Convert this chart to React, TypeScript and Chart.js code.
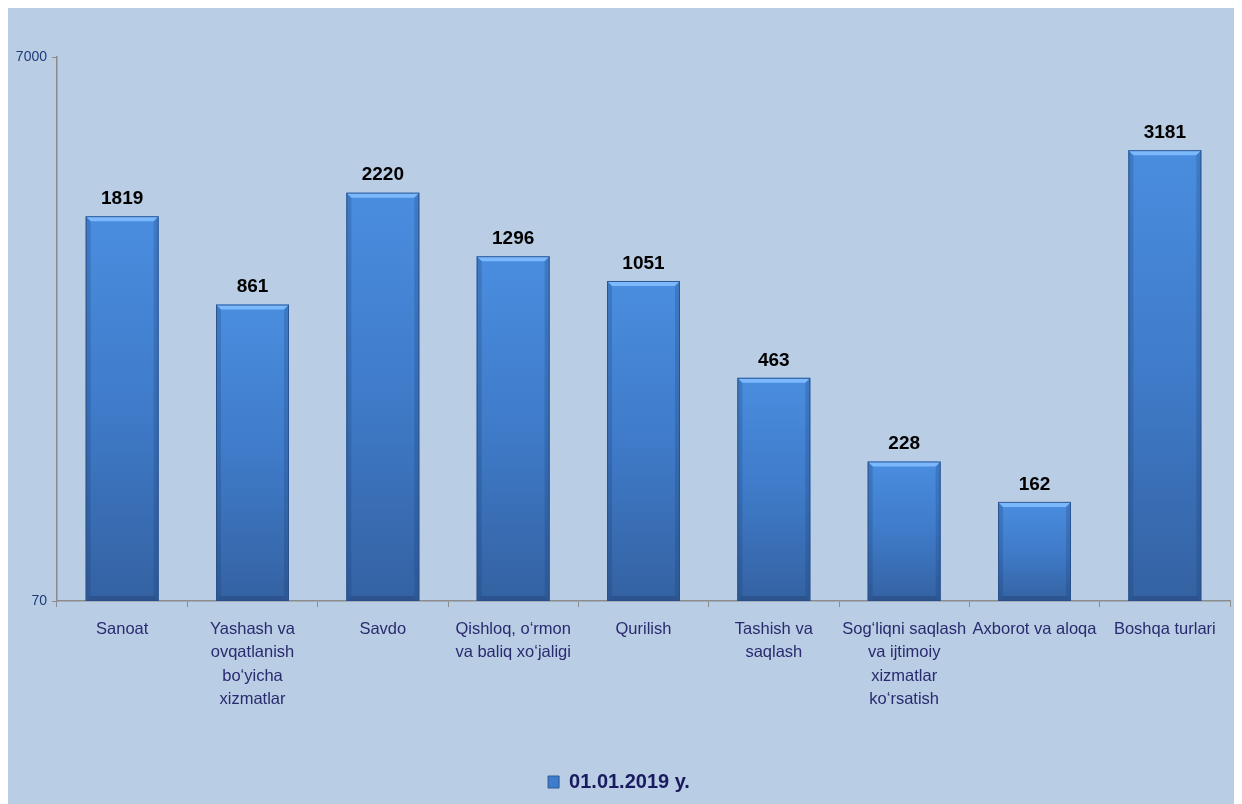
import React, { useEffect, useRef } from "react";
import { Chart, registerables } from "chart.js";

Chart.register(...registerables);

const categories: (string | string[])[] = [
  "Sanoat",
  ["Yashash va", "ovqatlanish", "bo‘yicha", "xizmatlar"],
  "Savdo",
  ["Qishloq, o‘rmon", "va baliq xo‘jaligi"],
  "Qurilish",
  ["Tashish va", "saqlash"],
  ["Sog‘liqni saqlash", "va ijtimoiy", "xizmatlar", "ko‘rsatish"],
  "Axborot va aloqa",
  "Boshqa turlari",
];
const values: number[] = [1819, 861, 2220, 1296, 1051, 463, 228, 162, 3181];
const seriesLabel = "01.01.2019 y.";
const yTicks: number[] = [70, 7000];

const FONT = "'Liberation Sans', Arial, sans-serif";

const barLabels = {
  id: "barLabels",
  afterDatasetsDraw(chart: any) {
    const ctx = chart.ctx;
    const meta = chart.getDatasetMeta(0);
    ctx.save();
    ctx.font = `bold 19px ${FONT}`;
    ctx.fillStyle = "#000000";
    ctx.textAlign = "center";
    ctx.textBaseline = "bottom";
    meta.data.forEach((el: any, i: number) => {
      ctx.fillText(String(chart.data.datasets[0].data[i]), el.x, el.y - 8);
    });
    ctx.restore();
  },
};

const bevel = {
  id: "bevel",
  afterDatasetsDraw(chart: any) {
    const ctx = chart.ctx;
    const meta = chart.getDatasetMeta(0);
    ctx.save();
    meta.data.forEach((el: any) => {
      const w = el.width;
      const l = el.x - w / 2;
      const r = el.x + w / 2;
      const t = el.y;
      const b = el.base;
      const d = 5;
      ctx.fillStyle = "rgba(130,190,255,0.9)";
      ctx.beginPath();
      ctx.moveTo(l, t);
      ctx.lineTo(r, t);
      ctx.lineTo(r - d, t + d);
      ctx.lineTo(l + d, t + d);
      ctx.closePath();
      ctx.fill();
      ctx.fillStyle = "rgba(25,55,105,0.22)";
      ctx.beginPath();
      ctx.moveTo(l, t);
      ctx.lineTo(l + d, t + d);
      ctx.lineTo(l + d, b - d);
      ctx.lineTo(l, b);
      ctx.closePath();
      ctx.fill();
      ctx.beginPath();
      ctx.moveTo(r, t);
      ctx.lineTo(r - d, t + d);
      ctx.lineTo(r - d, b - d);
      ctx.lineTo(r, b);
      ctx.closePath();
      ctx.fill();
      ctx.fillStyle = "rgba(25,50,95,0.3)";
      ctx.beginPath();
      ctx.moveTo(l, b);
      ctx.lineTo(l + d, b - d);
      ctx.lineTo(r - d, b - d);
      ctx.lineTo(r, b);
      ctx.closePath();
      ctx.fill();
      ctx.strokeStyle = "rgba(40,80,140,0.9)";
      ctx.lineWidth = 1;
      ctx.strokeRect(l + 0.5, t + 0.5, w - 1, b - t - 1);
    });
    ctx.restore();
  },
};

const bgPlugin = {
  id: "bg",
  beforeDraw(chart: any) {
    const ctx = chart.ctx;
    ctx.save();
    ctx.fillStyle = "#b9cde4";
    ctx.fillRect(0, 0, chart.width, chart.height);
    ctx.restore();
  },
};

export default function App() {
  const ref = useRef<HTMLCanvasElement>(null);
  useEffect(() => {
    document.body.style.overflow = "hidden";
    document.documentElement.style.overflow = "hidden";
    const canvas = ref.current!;
    const chart = new Chart(canvas, {
      type: "bar",
      data: {
        labels: categories,
        datasets: [
          {
            label: seriesLabel,
            data: values,
            backgroundColor: (c: any) => {
              const chartObj = c.chart;
              const ys = chartObj.scales && chartObj.scales.y;
              if (!ys || c.dataIndex === undefined || c.raw === undefined) return "#3f7ccb";
              const top = ys.getPixelForValue(c.raw);
              const bottom = ys.bottom;
              if (!isFinite(top) || !isFinite(bottom) || bottom - top < 1) return "#3f7ccb";
              const g = chartObj.ctx.createLinearGradient(0, top, 0, bottom);
              g.addColorStop(0, "#4a8ddf");
              g.addColorStop(0.5, "#3f7bc9");
              g.addColorStop(1, "#3462a2");
              return g;
            },
            borderWidth: 0,
            categoryPercentage: 1,
            barPercentage: 0.56,
          } as any,
        ],
      },
      options: {
        animation: false,
        responsive: false,
        devicePixelRatio: 1,
        layout: { padding: { left: 0, right: 12, top: 49, bottom: 2 } },
        plugins: {
          legend: {
            display: true,
            position: "bottom",
            labels: {
              boxWidth: 11,
              boxHeight: 12,
              color: "#1a1a5e",
              font: { family: FONT, size: 20, weight: "bold" },
              padding: 10,
              generateLabels: () => [
                {
                  text: seriesLabel,
                  fillStyle: "#3f7ccb",
                  strokeStyle: "#2d5a94",
                  lineWidth: 1,
                  hidden: false,
                  datasetIndex: 0,
                  fontColor: "#1a1a5e",
                } as any,
              ],
            },
          },
          tooltip: { enabled: false },
        },
        scales: {
          x: {
            grid: {
              display: true,
              offset: true,
              drawOnChartArea: false,
              drawTicks: true,
              tickLength: 6,
              color: "#8c8c8c",
            },
            border: { display: true, color: "#8c8c8c", width: 1.5 },
            ticks: {
              autoSkip: false,
              maxRotation: 0,
              minRotation: 0,
              padding: 11,
              color: "#2a2a6e",
              font: { family: FONT, size: 16.5, lineHeight: 1.41 },
            },
            afterFit: (s: any) => {
              s.height = 161;
            },
          },
          y: {
            type: "logarithmic",
            min: 70,
            max: 7000,
            afterBuildTicks: (s: any) => {
              s.ticks = yTicks.map((v) => ({ value: v }));
            },
            afterFit: (s: any) => {
              s.width = 49;
            },
            grid: {
              display: true,
              drawOnChartArea: false,
              drawTicks: true,
              tickLength: 5,
              color: "#8c8c8c",
            },
            border: { display: true, color: "#8c8c8c", width: 1.5 },
            ticks: {
              padding: 5,
              color: "#1f3a78",
              font: { family: FONT, size: 14 },
              callback: (v: any) => String(v),
            },
          },
        },
      },
      plugins: [bgPlugin, bevel, barLabels],
    });
    return () => chart.destroy();
  }, []);
  return (
    <div style={{ width: 1234, height: 796 }}>
      <canvas ref={ref} width={1234} height={796} style={{ display: "block" }} />
    </div>
  );
}
